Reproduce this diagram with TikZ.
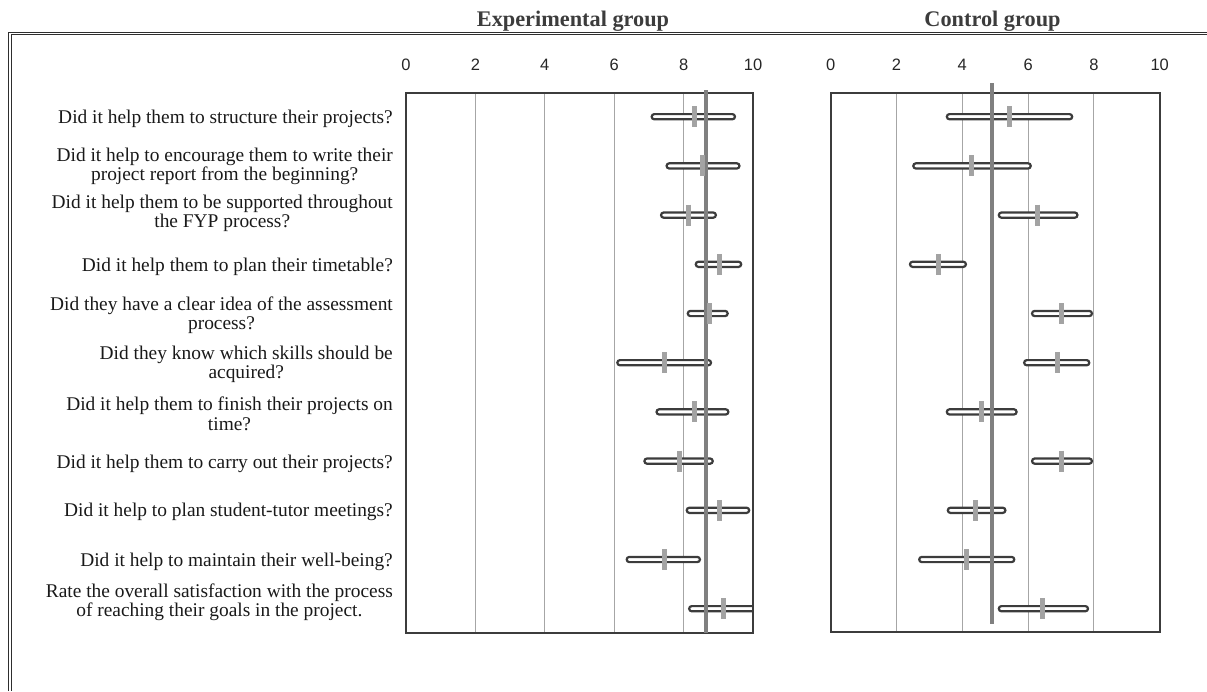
\documentclass[tikz,border=0pt]{standalone}
\usepackage{fontspec}
\setmainfont{Liberation Serif}
\newfontfamily\axisfont{Liberation Sans}
\usepackage{tikz}
\usetikzlibrary{positioning}
\definecolor{framegray}{HTML}{2E2E2E}
\definecolor{boxgray}{HTML}{3C3C3C}
\definecolor{gridgray}{HTML}{A6A6A6}
\definecolor{meangray}{HTML}{808080}
\definecolor{tickgray}{HTML}{A3A3A3}
\tikzset{
    x=1pt,y=-1pt,
    frame/.style ={draw=framegray, line width=1.1pt, double, double distance=1.6pt},
    title/.style ={anchor=base, inner sep=0pt, text=boxgray, font=\fontsize{22.3}{24}\selectfont\bfseries},
    axisnum/.style ={anchor=base, inner sep=0pt, text=black!85, font=\axisfont\fontsize{16.5}{17}\selectfont},
    question/.style ={anchor=east, align=center, inner sep=0pt, text=black!90, font=\fontsize{19.4}{19.2}\selectfont},
    panel/.style ={draw=boxgray, line width=2pt},
    gridline/.style ={draw=gridgray, line width=1pt},
    capsule/.style ={draw=boxgray, fill=white, line width=2.2pt, rounded corners=2.6pt},
    overall/.style ={draw=meangray, line width=3.8pt},
    meantick/.style ={draw=tickgray, line width=5pt}
}
\begin{document}
\begin{tikzpicture}
  \useasboundingbox (0,0) rectangle (1207,691);

  \draw[frame] (9.9,691) -- (9.9,33.4) -- (1207,33.4);

  \node[title] (expt) at (573,26) {Experimental group};

  \node[title] (ctrlt) at (992.5,26) {Control group};

  % questions
  \node[question] (q1) at (393,119) {Did it help them to structure their projects?};

  \node[question] (q2) at (393,166) {Did it help to encourage them to write their\\project report from the beginning?};

  \node[question] (q3) at (393,213) {Did it help them to be supported throughout\\the FYP process?};

  \node[question] (q4) at (393,267) {Did it help them to plan their timetable?};

  \node[question] (q5) at (393,315) {Did they have a clear idea of the assessment\\process?};

  \node[question] (q6) at (393,364.5) {Did they know which skills should be\\acquired?};

  \node[question] (q7) at (393,413.7) {Did it help them to finish their projects on\\time?};

  \node[question] (q8) at (393,463.5) {Did it help them to carry out their projects?};

  \node[question] (q9) at (393,512) {Did it help to plan student-tutor meetings?};

  \node[question] (q10) at (393,561.5) {Did it help to maintain their well-being?};

  \node[question] (q11) at (393,602) {Rate the overall satisfaction with the process\\of reaching their goals in the project.};

  % experimental group
  \begin{scope}[shift={(406,0)},x=34.7pt]
    \foreach \v in {0,2,...,10}
      \node[axisnum] (ex\v) at (\v,70.8) {\v};
    \foreach \v in {2,4,6,8}
      \draw[gridline] (\v,93.3) -- (\v,633);
    \begin{scope}
      \clip (0,93.3) rectangle (10,633);
      \foreach \y/\l/\r in {116.7/7.08/9.48, 165.9/7.51/9.61, 215.1/7.35/8.93,
          264.3/8.35/9.66, 313.5/8.12/9.27, 362.7/6.09/8.79, 411.9/7.22/9.29,
          461.1/6.87/8.84, 510.3/8.09/9.89, 559.5/6.36/8.47, 608.7/8.16/10.4}
        \draw[capsule] (\l,\y-2.6) rectangle (\r,\y+2.6);
    \end{scope}
    \draw[panel] (0,93.3) rectangle (10,633);
    \draw[overall] (8.65,90) -- (8.65,633);
    \foreach \y/\m in {116.7/8.31, 165.9/8.54, 215.1/8.15, 264.3/9.02, 313.5/8.76,
        362.7/7.46, 411.9/8.31, 461.1/7.87, 510.3/9.02, 559.5/7.46, 608.7/9.14}
      \draw[meantick] (\m,\y-10.5) -- (\m,\y+10.5);
  \end{scope}

  % control group
  \begin{scope}[shift={(830.7,0)},x=32.9pt]
    \foreach \v in {0,2,...,10}
      \node[axisnum] (cx\v) at (\v,70.8) {\v};
    \foreach \v in {2,4,6,8}
      \draw[gridline] (\v,93.3) -- (\v,631.7);
    \foreach \y/\l/\r in {116.7/3.53/7.34, 165.9/2.51/6.08, 215.1/5.11/7.50,
        264.3/2.41/4.11, 313.5/6.12/7.94, 362.7/5.88/7.86, 411.9/3.53/5.65,
        461.1/6.12/7.94, 510.3/3.56/5.31, 559.5/2.69/5.58, 608.7/5.11/7.82}
      \draw[capsule] (\l,\y-2.6) rectangle (\r,\y+2.6);
    \draw[panel] (0,93.3) rectangle (10,631.7);
    \draw[overall] (4.90,83) -- (4.90,624);
    \foreach \y/\m in {116.7/5.43, 165.9/4.29, 215.1/6.29, 264.3/3.27, 313.5/7.00,
        362.7/6.88, 411.9/4.57, 461.1/7.00, 510.3/4.41, 559.5/4.13, 608.7/6.44}
      \draw[meantick] (\m,\y-10.5) -- (\m,\y+10.5);
  \end{scope}
\end{tikzpicture}
\end{document}
